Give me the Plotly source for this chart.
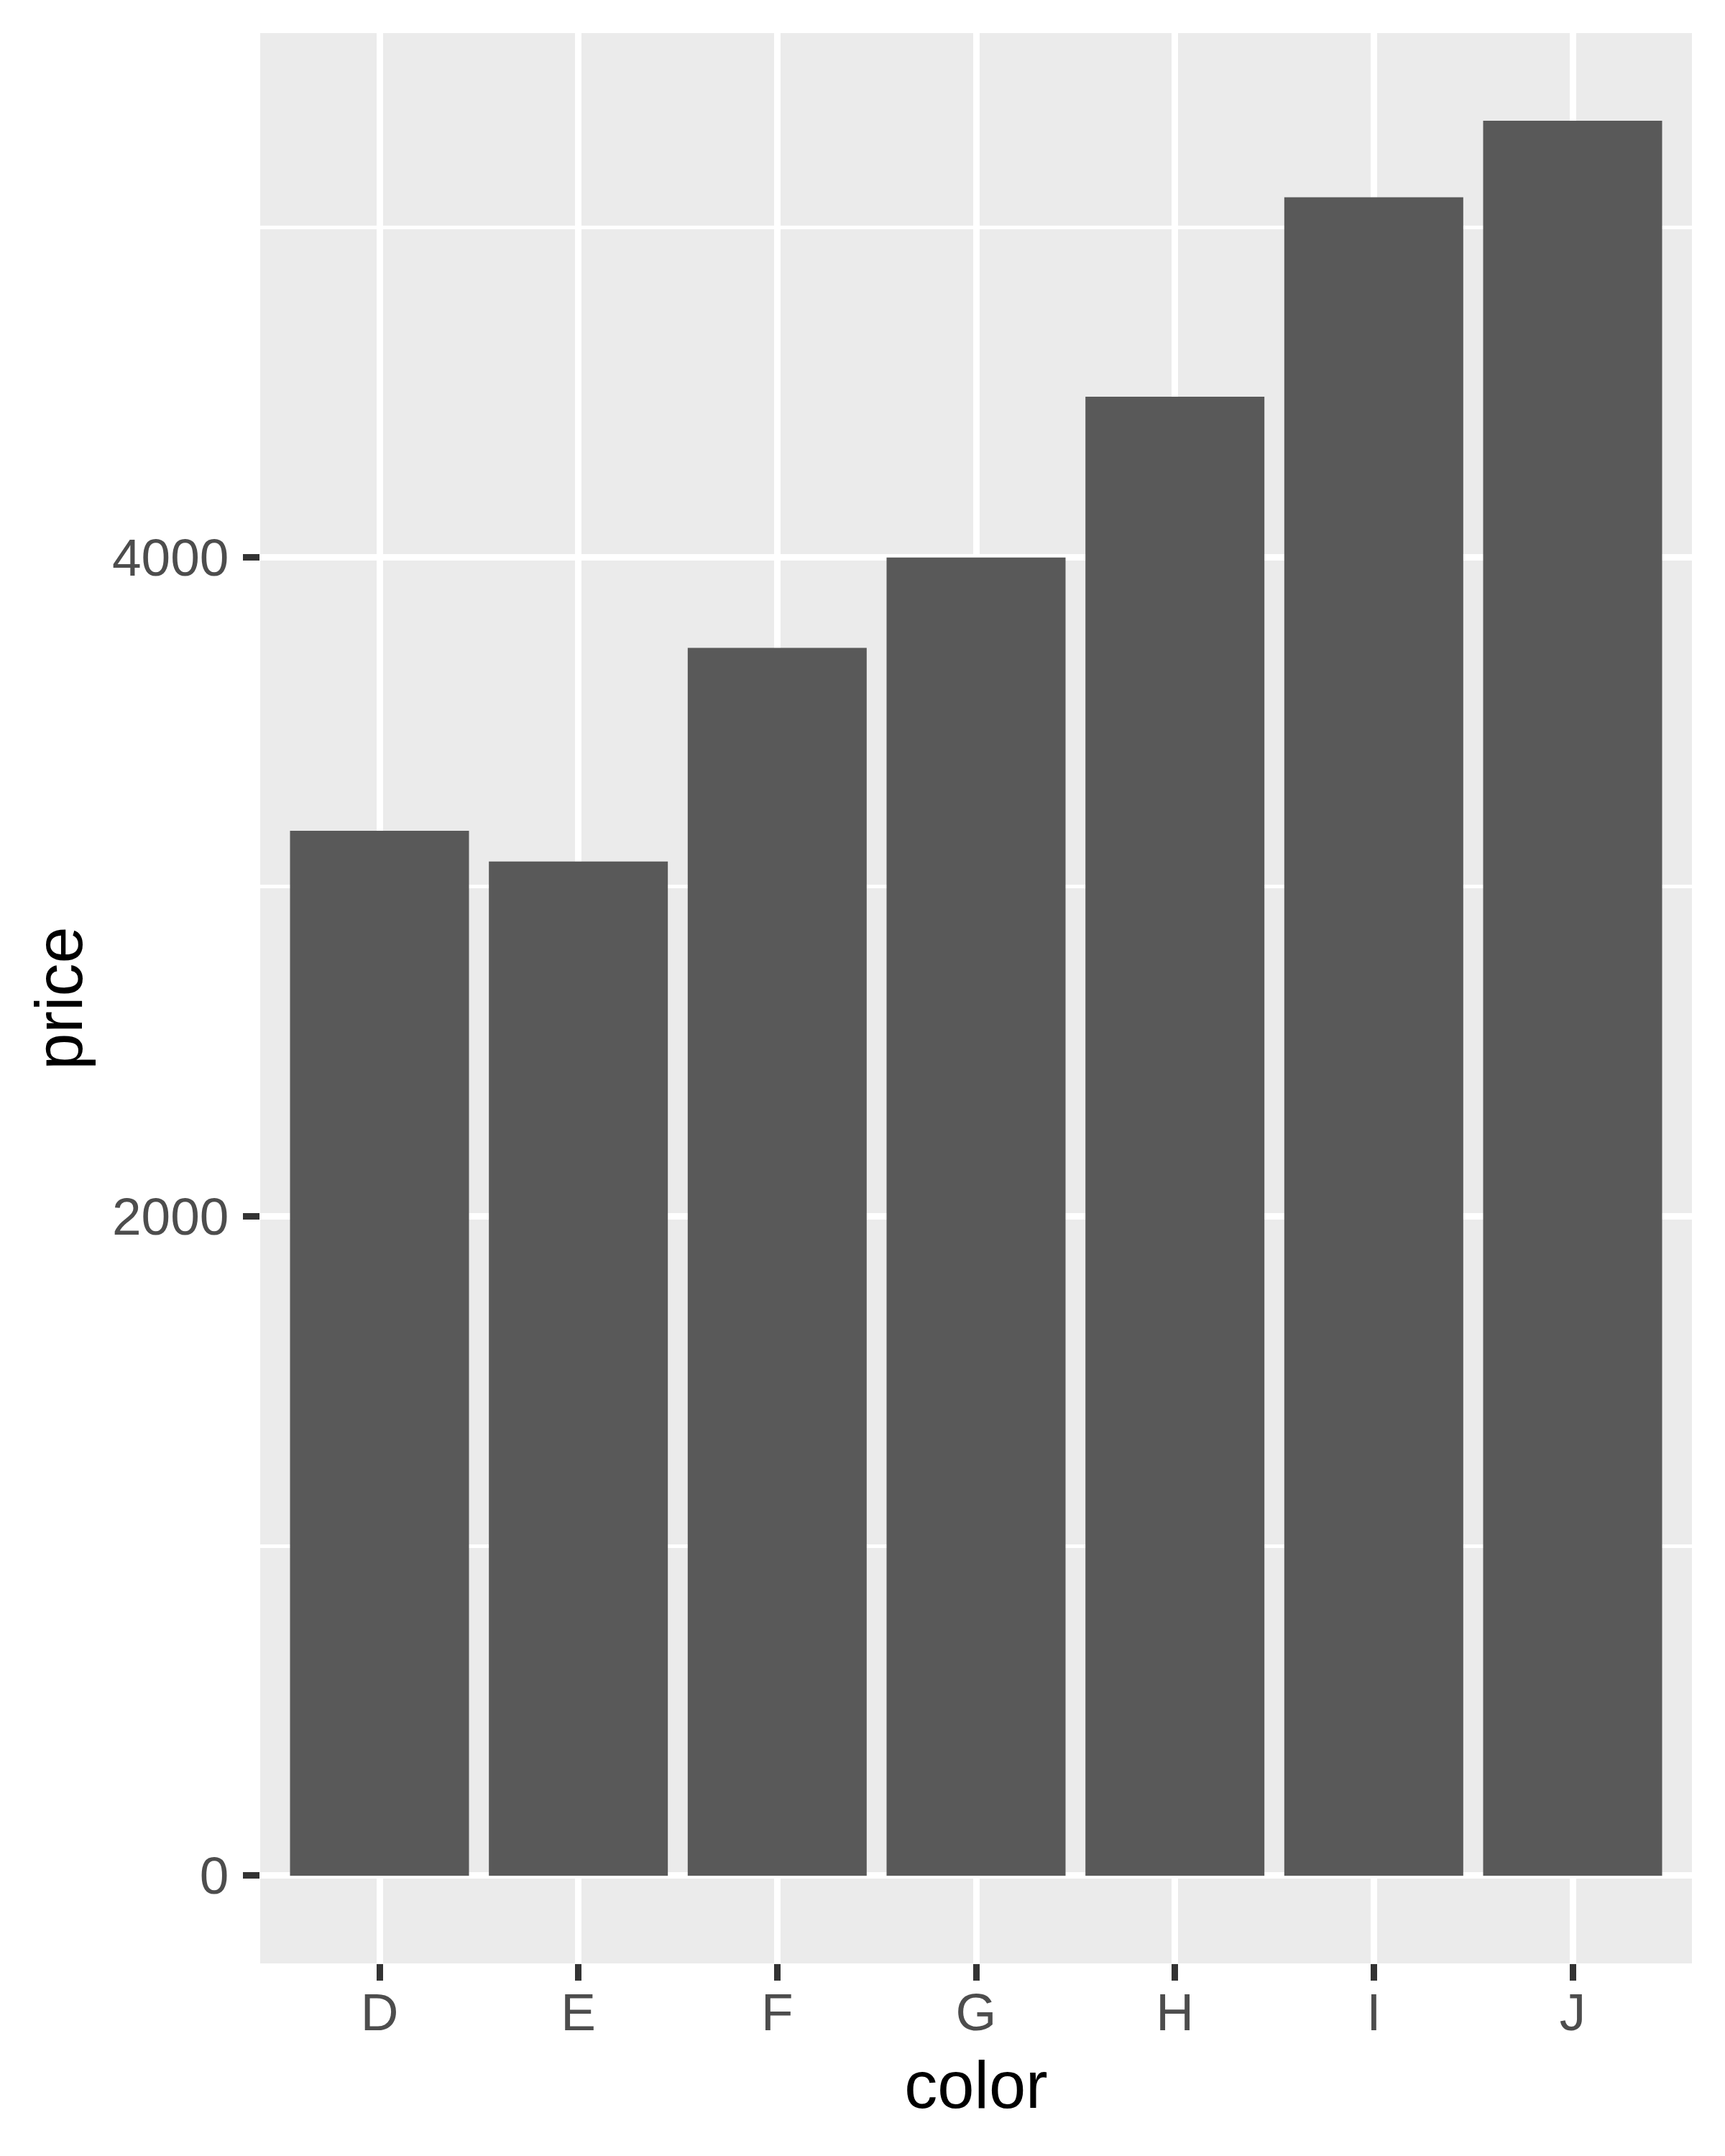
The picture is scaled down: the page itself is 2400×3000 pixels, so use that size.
import plotly.graph_objects as go

colors = ["D", "E", "F", "G", "H", "I", "J"]
mean_price = [3169.95, 3076.75, 3724.89, 3999.14, 4486.67, 5091.87, 5323.82]
y_ticks = [0, 2000, 4000]
y_tick_labels = ["0", "2000", "4000"]
y_minor = [1000, 3000, 5000]

# page body has an 8px default margin; compensate
W, H = 2392, 2992
L, R, T, B = 354, 46, 38, 268

ymax = max(mean_price)
yr = [-0.05 * ymax, 1.05 * ymax]

fig = go.Figure(go.Bar(
    x=colors, y=mean_price, width=0.9,
    marker=dict(color="#595959", line=dict(width=0)),
    hoverinfo="x+y",
))

font = "Liberation Sans, Arial, Helvetica, sans-serif"

fig.update_layout(
    width=W, height=H,
    margin=dict(l=L, r=R, t=T, b=B, autoexpand=False),
    paper_bgcolor="white", plot_bgcolor="#EBEBEB",
    showlegend=False,
    font=dict(family=font),
    xaxis=dict(
        type="category", range=[-0.6, 6.6],
        showgrid=True, gridcolor="white", gridwidth=9,
        ticks="outside", ticklen=23, tickwidth=9, tickcolor="#333333",
        tickfont=dict(size=73, color="#4D4D4D", family=font),
        ticklabelstandoff=-19,
        showline=False, zeroline=False, automargin=False,
        title=dict(text="color", font=dict(size=92, color="black", family=font), standoff=29),
    ),
    yaxis=dict(
        range=yr, tickmode="array", tickvals=y_ticks, ticktext=y_tick_labels,
        showgrid=True, gridcolor="white", gridwidth=9,
        minor=dict(tickmode="array", tickvals=y_minor, showgrid=True,
                   gridcolor="white", gridwidth=4.5, ticks=""),
        ticks="outside", ticklen=23, tickwidth=9, tickcolor="#333333",
        tickfont=dict(size=73, color="#4D4D4D", family=font),
        ticklabelstandoff=5,
        showline=False, zeroline=False, automargin=False,
        title=dict(text="price", font=dict(size=92, color="black", family=font), standoff=10),
    ),
)

fig.write_html("out.html")
